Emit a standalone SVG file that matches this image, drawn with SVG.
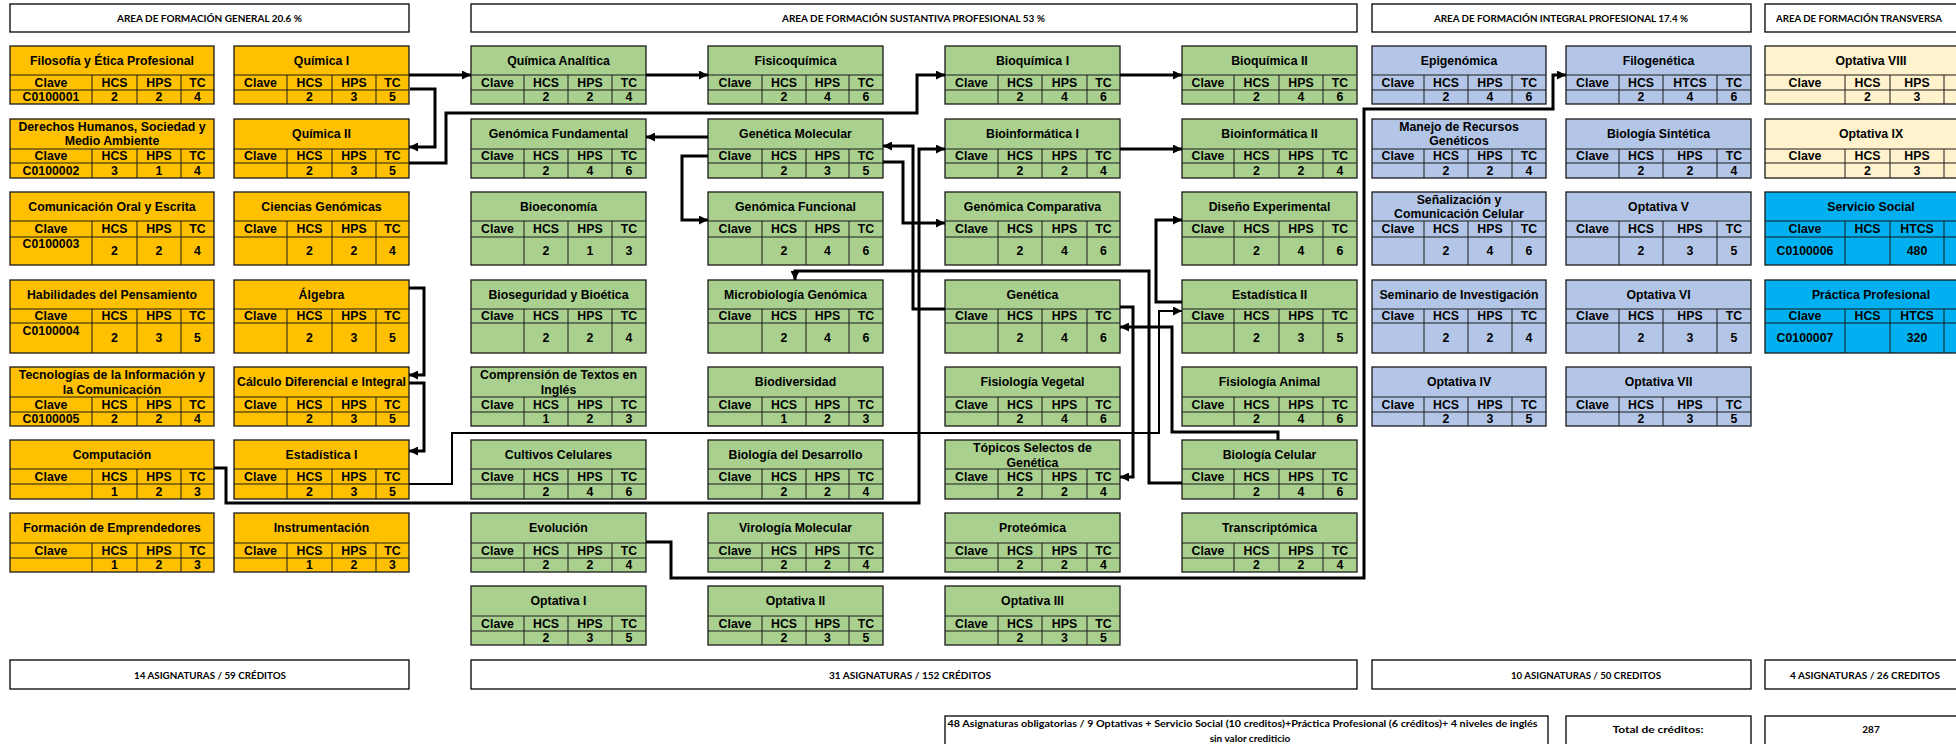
<svg xmlns="http://www.w3.org/2000/svg" width="1956" height="744" viewBox="0 0 1956 744">
<style>
.b{stroke:#1a1a1a;stroke-width:1.3}
.g{fill:none;stroke:#1a1a1a;stroke-width:1}
.or{fill:#FFC000}.gr{fill:#A9D08E}.bl{fill:#B4C6E7}.ye{fill:#FFF2CC}.cy{fill:#00B0F0}
.t{font-family:"Liberation Sans",Arial,sans-serif;font-weight:700;font-size:12.3px;text-anchor:middle;dominant-baseline:central;fill:#000}
.h{font-family:Lato,"Liberation Sans",sans-serif;font-weight:700;font-size:10px;text-anchor:middle;dominant-baseline:central;fill:#000}
.hs{text-anchor:start}
.hb{fill:#fff;stroke:#000;stroke-width:1.3}
.c{fill:none;stroke:#000;stroke-width:3;stroke-linejoin:miter}
.thin{stroke-width:2}
</style>
<defs>
<marker id="ah" viewBox="0 0 10 10" refX="10" refY="5" markerWidth="9" markerHeight="9" markerUnits="userSpaceOnUse" orient="auto"><path d="M0,0L10,5L0,10z" fill="#000"/></marker>
</defs>
<rect width="1956" height="744" fill="#fff"/>

<g id="headers">
<rect class="hb" x="10" y="4" width="399" height="28"/>
<text class="h" x="209.5" y="18" textLength="185" lengthAdjust="spacingAndGlyphs">AREA DE FORMACIÓN GENERAL  20.6 %</text>
<rect class="hb" x="471" y="4" width="886" height="28"/>
<text class="h" x="913.5" y="18" textLength="263" lengthAdjust="spacingAndGlyphs">AREA DE FORMACIÓN SUSTANTIVA PROFESIONAL  53 %</text>
<rect class="hb" x="1372" y="4" width="379" height="28"/>
<text class="h" x="1561" y="18" textLength="254" lengthAdjust="spacingAndGlyphs">AREA DE FORMACIÓN INTEGRAL PROFESIONAL 17.4 %</text>
<rect class="hb" x="1765" y="4" width="240" height="28"/>
<text class="h hs" x="1776" y="18" textLength="166" lengthAdjust="spacingAndGlyphs">AREA DE FORMACIÓN TRANSVERSA</text>
</g>

<g id="footers">
<rect class="hb" x="10" y="660" width="399" height="29"/>
<text class="h" x="210" y="674.5" textLength="152" lengthAdjust="spacingAndGlyphs">14 ASIGNATURAS / 59 CRÉDITOS</text>
<rect class="hb" x="471" y="660" width="886" height="29"/>
<text class="h" x="910" y="674.5" textLength="162" lengthAdjust="spacingAndGlyphs">31 ASIGNATURAS / 152 CRÉDITOS</text>
<rect class="hb" x="1372" y="660" width="379" height="29"/>
<text class="h" x="1586" y="674.5" textLength="150" lengthAdjust="spacingAndGlyphs">10 ASIGNATURAS / 50 CREDITOS</text>
<rect class="hb" x="1765" y="660" width="240" height="29"/>
<text class="h hs" x="1790" y="674.5" textLength="150" lengthAdjust="spacingAndGlyphs">4 ASIGNATURAS / 26 CREDITOS</text>
<rect class="hb" x="945" y="716" width="603" height="40"/>
<text class="h" x="1242.5" y="722.5" textLength="590" lengthAdjust="spacingAndGlyphs">48 Asignaturas obligatorias  / 9 Optativas + Servicio Social (10 creditos)+Práctica Profesional (6 créditos)+ 4 niveles de inglés</text>
<text class="h" x="1250" y="737.5">sin valor crediticio</text>
<rect class="hb" x="1566" y="716" width="185" height="40"/>
<text class="h" x="1658" y="728.5" textLength="91" lengthAdjust="spacingAndGlyphs">Total de créditos:</text>
<rect class="hb" x="1765" y="716" width="240" height="40"/>
<text class="h" x="1871" y="728.5">287</text>
</g>

<!-- Column A -->
<g id="filosofia"><rect class="b or" x="10" y="46" width="204" height="58"/><path class="g" d="M10,75H214M10,90H214M92,75V104M137,75V104M181,75V104"/><text class="t" x="112" y="60.5">Filosofía y Ética Profesional</text><text class="t" y="82.5"><tspan x="51">Clave</tspan><tspan x="114.5">HCS</tspan><tspan x="159">HPS</tspan><tspan x="197.5">TC</tspan></text><text class="t" y="97"><tspan x="51">C0100001</tspan><tspan x="114.5">2</tspan><tspan x="159">2</tspan><tspan x="197.5">4</tspan></text></g>
<g id="derechos"><rect class="b or" x="10" y="119" width="204" height="59"/><path class="g" d="M10,149H214M10,163H214M92,149V178M137,149V178M181,149V178"/><text class="t" x="112" y="127">Derechos Humanos, Sociedad y</text><text class="t" x="112" y="141">Medio Ambiente</text><text class="t" y="156"><tspan x="51">Clave</tspan><tspan x="114.5">HCS</tspan><tspan x="159">HPS</tspan><tspan x="197.5">TC</tspan></text><text class="t" y="170.5"><tspan x="51">C0100002</tspan><tspan x="114.5">3</tspan><tspan x="159">1</tspan><tspan x="197.5">4</tspan></text></g>
<g id="comunicacion"><rect class="b or" x="10" y="192" width="204" height="73"/><path class="g" d="M10,221H214M10,237H214M92,221V265M137,221V265M181,221V265"/><text class="t" x="112" y="206.5">Comunicación Oral y Escrita</text><text class="t" y="229"><tspan x="51">Clave</tspan><tspan x="114.5">HCS</tspan><tspan x="159">HPS</tspan><tspan x="197.5">TC</tspan></text><text class="t" x="51" y="244">C0100003</text><text class="t" y="251"><tspan x="114.5">2</tspan><tspan x="159">2</tspan><tspan x="197.5">4</tspan></text></g>
<g id="habilidades"><rect class="b or" x="10" y="280" width="204" height="73"/><path class="g" d="M10,309H214M10,323H214M92,309V353M137,309V353M181,309V353"/><text class="t" x="112" y="294.5">Habilidades del Pensamiento</text><text class="t" y="316"><tspan x="51">Clave</tspan><tspan x="114.5">HCS</tspan><tspan x="159">HPS</tspan><tspan x="197.5">TC</tspan></text><text class="t" x="51" y="331">C0100004</text><text class="t" y="338"><tspan x="114.5">2</tspan><tspan x="159">3</tspan><tspan x="197.5">5</tspan></text></g>
<g id="tecnologias"><rect class="b or" x="10" y="367" width="204" height="59"/><path class="g" d="M10,397H214M10,412H214M92,397V426M137,397V426M181,397V426"/><text class="t" x="112" y="375">Tecnologías de la Información y</text><text class="t" x="112" y="390">la Comunicación</text><text class="t" y="404.5"><tspan x="51">Clave</tspan><tspan x="114.5">HCS</tspan><tspan x="159">HPS</tspan><tspan x="197.5">TC</tspan></text><text class="t" y="419"><tspan x="51">C0100005</tspan><tspan x="114.5">2</tspan><tspan x="159">2</tspan><tspan x="197.5">4</tspan></text></g>
<g id="computacion"><rect class="b or" x="10" y="440" width="204" height="59"/><path class="g" d="M10,469H214M10,484H214M92,469V499M137,469V499M181,469V499"/><text class="t" x="112" y="454.5">Computación</text><text class="t" y="476.5"><tspan x="51">Clave</tspan><tspan x="114.5">HCS</tspan><tspan x="159">HPS</tspan><tspan x="197.5">TC</tspan></text><text class="t" y="491.5"><tspan x="114.5">1</tspan><tspan x="159">2</tspan><tspan x="197.5">3</tspan></text></g>
<g id="emprendedores"><rect class="b or" x="10" y="513" width="204" height="59"/><path class="g" d="M10,543H214M10,558H214M92,543V572M137,543V572M181,543V572"/><text class="t" x="112" y="528">Formación de Emprendedores</text><text class="t" y="550.5"><tspan x="51">Clave</tspan><tspan x="114.5">HCS</tspan><tspan x="159">HPS</tspan><tspan x="197.5">TC</tspan></text><text class="t" y="565"><tspan x="114.5">1</tspan><tspan x="159">2</tspan><tspan x="197.5">3</tspan></text></g>

<!-- Column B -->
<g id="quimica1"><rect class="b or" x="234" y="46" width="175" height="58"/><path class="g" d="M234,75H409M234,90H409M287,75V104M332,75V104M376,75V104"/><text class="t" x="321.5" y="60.5">Química I</text><text class="t" y="82.5"><tspan x="260.5">Clave</tspan><tspan x="309.5">HCS</tspan><tspan x="354">HPS</tspan><tspan x="392.5">TC</tspan></text><text class="t" y="97"><tspan x="309.5">2</tspan><tspan x="354">3</tspan><tspan x="392.5">5</tspan></text></g>
<g id="quimica2"><rect class="b or" x="234" y="119" width="175" height="59"/><path class="g" d="M234,149H409M234,163H409M287,149V178M332,149V178M376,149V178"/><text class="t" x="321.5" y="134">Química II</text><text class="t" y="156"><tspan x="260.5">Clave</tspan><tspan x="309.5">HCS</tspan><tspan x="354">HPS</tspan><tspan x="392.5">TC</tspan></text><text class="t" y="170.5"><tspan x="309.5">2</tspan><tspan x="354">3</tspan><tspan x="392.5">5</tspan></text></g>
<g id="cienciasgen"><rect class="b or" x="234" y="192" width="175" height="73"/><path class="g" d="M234,221H409M234,237H409M287,221V265M332,221V265M376,221V265"/><text class="t" x="321.5" y="206.5">Ciencias Genómicas</text><text class="t" y="229"><tspan x="260.5">Clave</tspan><tspan x="309.5">HCS</tspan><tspan x="354">HPS</tspan><tspan x="392.5">TC</tspan></text><text class="t" y="251"><tspan x="309.5">2</tspan><tspan x="354">2</tspan><tspan x="392.5">4</tspan></text></g>
<g id="algebra"><rect class="b or" x="234" y="280" width="175" height="73"/><path class="g" d="M234,309H409M234,323H409M287,309V353M332,309V353M376,309V353"/><text class="t" x="321.5" y="294.5">Álgebra</text><text class="t" y="316"><tspan x="260.5">Clave</tspan><tspan x="309.5">HCS</tspan><tspan x="354">HPS</tspan><tspan x="392.5">TC</tspan></text><text class="t" y="338"><tspan x="309.5">2</tspan><tspan x="354">3</tspan><tspan x="392.5">5</tspan></text></g>
<g id="calculo"><rect class="b or" x="234" y="367" width="175" height="59"/><path class="g" d="M234,397H409M234,412H409M287,397V426M332,397V426M376,397V426"/><text class="t" x="321.5" y="382">Cálculo Diferencial e Integral</text><text class="t" y="404.5"><tspan x="260.5">Clave</tspan><tspan x="309.5">HCS</tspan><tspan x="354">HPS</tspan><tspan x="392.5">TC</tspan></text><text class="t" y="419"><tspan x="309.5">2</tspan><tspan x="354">3</tspan><tspan x="392.5">5</tspan></text></g>
<g id="estadistica1"><rect class="b or" x="234" y="440" width="175" height="59"/><path class="g" d="M234,469H409M234,484H409M287,469V499M332,469V499M376,469V499"/><text class="t" x="321.5" y="454.5">Estadística I</text><text class="t" y="476.5"><tspan x="260.5">Clave</tspan><tspan x="309.5">HCS</tspan><tspan x="354">HPS</tspan><tspan x="392.5">TC</tspan></text><text class="t" y="491.5"><tspan x="309.5">2</tspan><tspan x="354">3</tspan><tspan x="392.5">5</tspan></text></g>
<g id="instrumentacion"><rect class="b or" x="234" y="513" width="175" height="59"/><path class="g" d="M234,543H409M234,558H409M287,543V572M332,543V572M376,543V572"/><text class="t" x="321.5" y="528">Instrumentación</text><text class="t" y="550.5"><tspan x="260.5">Clave</tspan><tspan x="309.5">HCS</tspan><tspan x="354">HPS</tspan><tspan x="392.5">TC</tspan></text><text class="t" y="565"><tspan x="309.5">1</tspan><tspan x="354">2</tspan><tspan x="392.5">3</tspan></text></g>

<!-- Column C -->
<g id="quimanalitica"><rect class="b gr" x="471" y="46" width="175" height="58"/><path class="g" d="M471,75H646M471,90H646M524,75V104M568,75V104M612,75V104"/><text class="t" x="558.5" y="60.5">Química Analítica</text><text class="t" y="82.5"><tspan x="497.5">Clave</tspan><tspan x="546">HCS</tspan><tspan x="590">HPS</tspan><tspan x="629">TC</tspan></text><text class="t" y="97"><tspan x="546">2</tspan><tspan x="590">2</tspan><tspan x="629">4</tspan></text></g>
<g id="genfundamental"><rect class="b gr" x="471" y="119" width="175" height="59"/><path class="g" d="M471,149H646M471,163H646M524,149V178M568,149V178M612,149V178"/><text class="t" x="558.5" y="134">Genómica Fundamental</text><text class="t" y="156"><tspan x="497.5">Clave</tspan><tspan x="546">HCS</tspan><tspan x="590">HPS</tspan><tspan x="629">TC</tspan></text><text class="t" y="170.5"><tspan x="546">2</tspan><tspan x="590">4</tspan><tspan x="629">6</tspan></text></g>
<g id="bioeconomia"><rect class="b gr" x="471" y="192" width="175" height="73"/><path class="g" d="M471,221H646M471,237H646M524,221V265M568,221V265M612,221V265"/><text class="t" x="558.5" y="206.5">Bioeconomía</text><text class="t" y="229"><tspan x="497.5">Clave</tspan><tspan x="546">HCS</tspan><tspan x="590">HPS</tspan><tspan x="629">TC</tspan></text><text class="t" y="251"><tspan x="546">2</tspan><tspan x="590">1</tspan><tspan x="629">3</tspan></text></g>
<g id="bioseguridad"><rect class="b gr" x="471" y="280" width="175" height="73"/><path class="g" d="M471,309H646M471,323H646M524,309V353M568,309V353M612,309V353"/><text class="t" x="558.5" y="294.5">Bioseguridad y Bioética</text><text class="t" y="316"><tspan x="497.5">Clave</tspan><tspan x="546">HCS</tspan><tspan x="590">HPS</tspan><tspan x="629">TC</tspan></text><text class="t" y="338"><tspan x="546">2</tspan><tspan x="590">2</tspan><tspan x="629">4</tspan></text></g>
<g id="comprension"><rect class="b gr" x="471" y="367" width="175" height="59"/><path class="g" d="M471,397H646M471,412H646M524,397V426M568,397V426M612,397V426"/><text class="t" x="558.5" y="375">Comprensión de Textos en</text><text class="t" x="558.5" y="390">Inglés</text><text class="t" y="404.5"><tspan x="497.5">Clave</tspan><tspan x="546">HCS</tspan><tspan x="590">HPS</tspan><tspan x="629">TC</tspan></text><text class="t" y="419"><tspan x="546">1</tspan><tspan x="590">2</tspan><tspan x="629">3</tspan></text></g>
<g id="cultivos"><rect class="b gr" x="471" y="440" width="175" height="59"/><path class="g" d="M471,469H646M471,484H646M524,469V499M568,469V499M612,469V499"/><text class="t" x="558.5" y="454.5">Cultivos Celulares</text><text class="t" y="476.5"><tspan x="497.5">Clave</tspan><tspan x="546">HCS</tspan><tspan x="590">HPS</tspan><tspan x="629">TC</tspan></text><text class="t" y="491.5"><tspan x="546">2</tspan><tspan x="590">4</tspan><tspan x="629">6</tspan></text></g>
<g id="evolucion"><rect class="b gr" x="471" y="513" width="175" height="59"/><path class="g" d="M471,543H646M471,558H646M524,543V572M568,543V572M612,543V572"/><text class="t" x="558.5" y="528">Evolución</text><text class="t" y="550.5"><tspan x="497.5">Clave</tspan><tspan x="546">HCS</tspan><tspan x="590">HPS</tspan><tspan x="629">TC</tspan></text><text class="t" y="565"><tspan x="546">2</tspan><tspan x="590">2</tspan><tspan x="629">4</tspan></text></g>
<g id="optativa1"><rect class="b gr" x="471" y="586" width="175" height="59"/><path class="g" d="M471,616H646M471,631H646M524,616V645M568,616V645M612,616V645"/><text class="t" x="558.5" y="601">Optativa I</text><text class="t" y="623.5"><tspan x="497.5">Clave</tspan><tspan x="546">HCS</tspan><tspan x="590">HPS</tspan><tspan x="629">TC</tspan></text><text class="t" y="638"><tspan x="546">2</tspan><tspan x="590">3</tspan><tspan x="629">5</tspan></text></g>

<!-- Column D -->
<g id="fisicoquimica"><rect class="b gr" x="708" y="46" width="175" height="58"/><path class="g" d="M708,75H883M708,90H883M762,75V104M806,75V104M849,75V104"/><text class="t" x="795.5" y="60.5">Fisicoquímica</text><text class="t" y="82.5"><tspan x="735">Clave</tspan><tspan x="784">HCS</tspan><tspan x="827.5">HPS</tspan><tspan x="866">TC</tspan></text><text class="t" y="97"><tspan x="784">2</tspan><tspan x="827.5">4</tspan><tspan x="866">6</tspan></text></g>
<g id="genmolecular"><rect class="b gr" x="708" y="119" width="175" height="59"/><path class="g" d="M708,149H883M708,163H883M762,149V178M806,149V178M849,149V178"/><text class="t" x="795.5" y="134">Genética Molecular</text><text class="t" y="156"><tspan x="735">Clave</tspan><tspan x="784">HCS</tspan><tspan x="827.5">HPS</tspan><tspan x="866">TC</tspan></text><text class="t" y="170.5"><tspan x="784">2</tspan><tspan x="827.5">3</tspan><tspan x="866">5</tspan></text></g>
<g id="genfuncional"><rect class="b gr" x="708" y="192" width="175" height="73"/><path class="g" d="M708,221H883M708,237H883M762,221V265M806,221V265M849,221V265"/><text class="t" x="795.5" y="206.5">Genómica Funcional</text><text class="t" y="229"><tspan x="735">Clave</tspan><tspan x="784">HCS</tspan><tspan x="827.5">HPS</tspan><tspan x="866">TC</tspan></text><text class="t" y="251"><tspan x="784">2</tspan><tspan x="827.5">4</tspan><tspan x="866">6</tspan></text></g>
<g id="microbiologia"><rect class="b gr" x="708" y="280" width="175" height="73"/><path class="g" d="M708,309H883M708,323H883M762,309V353M806,309V353M849,309V353"/><text class="t" x="795.5" y="294.5">Microbiología Genómica</text><text class="t" y="316"><tspan x="735">Clave</tspan><tspan x="784">HCS</tspan><tspan x="827.5">HPS</tspan><tspan x="866">TC</tspan></text><text class="t" y="338"><tspan x="784">2</tspan><tspan x="827.5">4</tspan><tspan x="866">6</tspan></text></g>
<g id="biodiversidad"><rect class="b gr" x="708" y="367" width="175" height="59"/><path class="g" d="M708,397H883M708,412H883M762,397V426M806,397V426M849,397V426"/><text class="t" x="795.5" y="382">Biodiversidad</text><text class="t" y="404.5"><tspan x="735">Clave</tspan><tspan x="784">HCS</tspan><tspan x="827.5">HPS</tspan><tspan x="866">TC</tspan></text><text class="t" y="419"><tspan x="784">1</tspan><tspan x="827.5">2</tspan><tspan x="866">3</tspan></text></g>
<g id="biodesarrollo"><rect class="b gr" x="708" y="440" width="175" height="59"/><path class="g" d="M708,469H883M708,484H883M762,469V499M806,469V499M849,469V499"/><text class="t" x="795.5" y="454.5">Biología del Desarrollo</text><text class="t" y="476.5"><tspan x="735">Clave</tspan><tspan x="784">HCS</tspan><tspan x="827.5">HPS</tspan><tspan x="866">TC</tspan></text><text class="t" y="491.5"><tspan x="784">2</tspan><tspan x="827.5">2</tspan><tspan x="866">4</tspan></text></g>
<g id="virologia"><rect class="b gr" x="708" y="513" width="175" height="59"/><path class="g" d="M708,543H883M708,558H883M762,543V572M806,543V572M849,543V572"/><text class="t" x="795.5" y="528">Virología Molecular</text><text class="t" y="550.5"><tspan x="735">Clave</tspan><tspan x="784">HCS</tspan><tspan x="827.5">HPS</tspan><tspan x="866">TC</tspan></text><text class="t" y="565"><tspan x="784">2</tspan><tspan x="827.5">2</tspan><tspan x="866">4</tspan></text></g>
<g id="optativa2"><rect class="b gr" x="708" y="586" width="175" height="59"/><path class="g" d="M708,616H883M708,631H883M762,616V645M806,616V645M849,616V645"/><text class="t" x="795.5" y="601">Optativa II</text><text class="t" y="623.5"><tspan x="735">Clave</tspan><tspan x="784">HCS</tspan><tspan x="827.5">HPS</tspan><tspan x="866">TC</tspan></text><text class="t" y="638"><tspan x="784">2</tspan><tspan x="827.5">3</tspan><tspan x="866">5</tspan></text></g>

<!-- Column E -->
<g id="bioquimica1"><rect class="b gr" x="945" y="46" width="175" height="58"/><path class="g" d="M945,75H1120M945,90H1120M998,75V104M1042,75V104M1087,75V104"/><text class="t" x="1032.5" y="60.5">Bioquímica I</text><text class="t" y="82.5"><tspan x="971.5">Clave</tspan><tspan x="1020">HCS</tspan><tspan x="1064.5">HPS</tspan><tspan x="1103.5">TC</tspan></text><text class="t" y="97"><tspan x="1020">2</tspan><tspan x="1064.5">4</tspan><tspan x="1103.5">6</tspan></text></g>
<g id="bioinfo1"><rect class="b gr" x="945" y="119" width="175" height="59"/><path class="g" d="M945,149H1120M945,163H1120M998,149V178M1042,149V178M1087,149V178"/><text class="t" x="1032.5" y="134">Bioinformática I</text><text class="t" y="156"><tspan x="971.5">Clave</tspan><tspan x="1020">HCS</tspan><tspan x="1064.5">HPS</tspan><tspan x="1103.5">TC</tspan></text><text class="t" y="170.5"><tspan x="1020">2</tspan><tspan x="1064.5">2</tspan><tspan x="1103.5">4</tspan></text></g>
<g id="gencomparativa"><rect class="b gr" x="945" y="192" width="175" height="73"/><path class="g" d="M945,221H1120M945,237H1120M998,221V265M1042,221V265M1087,221V265"/><text class="t" x="1032.5" y="206.5">Genómica Comparativa</text><text class="t" y="229"><tspan x="971.5">Clave</tspan><tspan x="1020">HCS</tspan><tspan x="1064.5">HPS</tspan><tspan x="1103.5">TC</tspan></text><text class="t" y="251"><tspan x="1020">2</tspan><tspan x="1064.5">4</tspan><tspan x="1103.5">6</tspan></text></g>
<g id="genetica"><rect class="b gr" x="945" y="280" width="175" height="73"/><path class="g" d="M945,309H1120M945,323H1120M998,309V353M1042,309V353M1087,309V353"/><text class="t" x="1032.5" y="294.5">Genética</text><text class="t" y="316"><tspan x="971.5">Clave</tspan><tspan x="1020">HCS</tspan><tspan x="1064.5">HPS</tspan><tspan x="1103.5">TC</tspan></text><text class="t" y="338"><tspan x="1020">2</tspan><tspan x="1064.5">4</tspan><tspan x="1103.5">6</tspan></text></g>
<g id="fisvegetal"><rect class="b gr" x="945" y="367" width="175" height="59"/><path class="g" d="M945,397H1120M945,412H1120M998,397V426M1042,397V426M1087,397V426"/><text class="t" x="1032.5" y="382">Fisiología Vegetal</text><text class="t" y="404.5"><tspan x="971.5">Clave</tspan><tspan x="1020">HCS</tspan><tspan x="1064.5">HPS</tspan><tspan x="1103.5">TC</tspan></text><text class="t" y="419"><tspan x="1020">2</tspan><tspan x="1064.5">4</tspan><tspan x="1103.5">6</tspan></text></g>
<g id="topicos"><rect class="b gr" x="945" y="440" width="175" height="59"/><path class="g" d="M945,469H1120M945,484H1120M998,469V499M1042,469V499M1087,469V499"/><text class="t" x="1032.5" y="448">Tópicos Selectos de</text><text class="t" x="1032.5" y="463">Genética</text><text class="t" y="476.5"><tspan x="971.5">Clave</tspan><tspan x="1020">HCS</tspan><tspan x="1064.5">HPS</tspan><tspan x="1103.5">TC</tspan></text><text class="t" y="491.5"><tspan x="1020">2</tspan><tspan x="1064.5">2</tspan><tspan x="1103.5">4</tspan></text></g>
<g id="proteomica"><rect class="b gr" x="945" y="513" width="175" height="59"/><path class="g" d="M945,543H1120M945,558H1120M998,543V572M1042,543V572M1087,543V572"/><text class="t" x="1032.5" y="528">Proteómica</text><text class="t" y="550.5"><tspan x="971.5">Clave</tspan><tspan x="1020">HCS</tspan><tspan x="1064.5">HPS</tspan><tspan x="1103.5">TC</tspan></text><text class="t" y="565"><tspan x="1020">2</tspan><tspan x="1064.5">2</tspan><tspan x="1103.5">4</tspan></text></g>
<g id="optativa3"><rect class="b gr" x="945" y="586" width="175" height="59"/><path class="g" d="M945,616H1120M945,631H1120M998,616V645M1042,616V645M1087,616V645"/><text class="t" x="1032.5" y="601">Optativa III</text><text class="t" y="623.5"><tspan x="971.5">Clave</tspan><tspan x="1020">HCS</tspan><tspan x="1064.5">HPS</tspan><tspan x="1103.5">TC</tspan></text><text class="t" y="638"><tspan x="1020">2</tspan><tspan x="1064.5">3</tspan><tspan x="1103.5">5</tspan></text></g>

<!-- Column F -->
<g id="bioquimica2"><rect class="b gr" x="1182" y="46" width="175" height="58"/><path class="g" d="M1182,75H1357M1182,90H1357M1234,75V104M1279,75V104M1323,75V104"/><text class="t" x="1269.5" y="60.5">Bioquímica II</text><text class="t" y="82.5"><tspan x="1208">Clave</tspan><tspan x="1256.5">HCS</tspan><tspan x="1301">HPS</tspan><tspan x="1340">TC</tspan></text><text class="t" y="97"><tspan x="1256.5">2</tspan><tspan x="1301">4</tspan><tspan x="1340">6</tspan></text></g>
<g id="bioinfo2"><rect class="b gr" x="1182" y="119" width="175" height="59"/><path class="g" d="M1182,149H1357M1182,163H1357M1234,149V178M1279,149V178M1323,149V178"/><text class="t" x="1269.5" y="134">Bioinformática II</text><text class="t" y="156"><tspan x="1208">Clave</tspan><tspan x="1256.5">HCS</tspan><tspan x="1301">HPS</tspan><tspan x="1340">TC</tspan></text><text class="t" y="170.5"><tspan x="1256.5">2</tspan><tspan x="1301">2</tspan><tspan x="1340">4</tspan></text></g>
<g id="disenoexp"><rect class="b gr" x="1182" y="192" width="175" height="73"/><path class="g" d="M1182,221H1357M1182,237H1357M1234,221V265M1279,221V265M1323,221V265"/><text class="t" x="1269.5" y="206.5">Diseño Experimental</text><text class="t" y="229"><tspan x="1208">Clave</tspan><tspan x="1256.5">HCS</tspan><tspan x="1301">HPS</tspan><tspan x="1340">TC</tspan></text><text class="t" y="251"><tspan x="1256.5">2</tspan><tspan x="1301">4</tspan><tspan x="1340">6</tspan></text></g>
<g id="estadistica2"><rect class="b gr" x="1182" y="280" width="175" height="73"/><path class="g" d="M1182,309H1357M1182,323H1357M1234,309V353M1279,309V353M1323,309V353"/><text class="t" x="1269.5" y="294.5">Estadística II</text><text class="t" y="316"><tspan x="1208">Clave</tspan><tspan x="1256.5">HCS</tspan><tspan x="1301">HPS</tspan><tspan x="1340">TC</tspan></text><text class="t" y="338"><tspan x="1256.5">2</tspan><tspan x="1301">3</tspan><tspan x="1340">5</tspan></text></g>
<g id="fisanimal"><rect class="b gr" x="1182" y="367" width="175" height="59"/><path class="g" d="M1182,397H1357M1182,412H1357M1234,397V426M1279,397V426M1323,397V426"/><text class="t" x="1269.5" y="382">Fisiología Animal</text><text class="t" y="404.5"><tspan x="1208">Clave</tspan><tspan x="1256.5">HCS</tspan><tspan x="1301">HPS</tspan><tspan x="1340">TC</tspan></text><text class="t" y="419"><tspan x="1256.5">2</tspan><tspan x="1301">4</tspan><tspan x="1340">6</tspan></text></g>
<g id="biocelular"><rect class="b gr" x="1182" y="440" width="175" height="59"/><path class="g" d="M1182,469H1357M1182,484H1357M1234,469V499M1279,469V499M1323,469V499"/><text class="t" x="1269.5" y="454.5">Biología Celular</text><text class="t" y="476.5"><tspan x="1208">Clave</tspan><tspan x="1256.5">HCS</tspan><tspan x="1301">HPS</tspan><tspan x="1340">TC</tspan></text><text class="t" y="491.5"><tspan x="1256.5">2</tspan><tspan x="1301">4</tspan><tspan x="1340">6</tspan></text></g>
<g id="transcriptomica"><rect class="b gr" x="1182" y="513" width="175" height="59"/><path class="g" d="M1182,543H1357M1182,558H1357M1234,543V572M1279,543V572M1323,543V572"/><text class="t" x="1269.5" y="528">Transcriptómica</text><text class="t" y="550.5"><tspan x="1208">Clave</tspan><tspan x="1256.5">HCS</tspan><tspan x="1301">HPS</tspan><tspan x="1340">TC</tspan></text><text class="t" y="565"><tspan x="1256.5">2</tspan><tspan x="1301">2</tspan><tspan x="1340">4</tspan></text></g>

<!-- Column G -->
<g id="epigenomica"><rect class="b bl" x="1372" y="46" width="174" height="58"/><path class="g" d="M1372,75H1546M1372,90H1546M1424,75V104M1468,75V104M1512,75V104"/><text class="t" x="1459" y="60.5">Epigenómica</text><text class="t" y="82.5"><tspan x="1398">Clave</tspan><tspan x="1446">HCS</tspan><tspan x="1490">HPS</tspan><tspan x="1529">TC</tspan></text><text class="t" y="97"><tspan x="1446">2</tspan><tspan x="1490">4</tspan><tspan x="1529">6</tspan></text></g>
<g id="manejo"><rect class="b bl" x="1372" y="119" width="174" height="59"/><path class="g" d="M1372,149H1546M1372,163H1546M1424,149V178M1468,149V178M1512,149V178"/><text class="t" x="1459" y="127">Manejo de Recursos</text><text class="t" x="1459" y="141">Genéticos</text><text class="t" y="156"><tspan x="1398">Clave</tspan><tspan x="1446">HCS</tspan><tspan x="1490">HPS</tspan><tspan x="1529">TC</tspan></text><text class="t" y="170.5"><tspan x="1446">2</tspan><tspan x="1490">2</tspan><tspan x="1529">4</tspan></text></g>
<g id="senalizacion"><rect class="b bl" x="1372" y="192" width="174" height="73"/><path class="g" d="M1372,221H1546M1372,237H1546M1424,221V265M1468,221V265M1512,221V265"/><text class="t" x="1459" y="200">Señalización y</text><text class="t" x="1459" y="214">Comunicación Celular</text><text class="t" y="229"><tspan x="1398">Clave</tspan><tspan x="1446">HCS</tspan><tspan x="1490">HPS</tspan><tspan x="1529">TC</tspan></text><text class="t" y="251"><tspan x="1446">2</tspan><tspan x="1490">4</tspan><tspan x="1529">6</tspan></text></g>
<g id="seminario"><rect class="b bl" x="1372" y="280" width="174" height="73"/><path class="g" d="M1372,309H1546M1372,323H1546M1424,309V353M1468,309V353M1512,309V353"/><text class="t" x="1459" y="294.5">Seminario de Investigación</text><text class="t" y="316"><tspan x="1398">Clave</tspan><tspan x="1446">HCS</tspan><tspan x="1490">HPS</tspan><tspan x="1529">TC</tspan></text><text class="t" y="338"><tspan x="1446">2</tspan><tspan x="1490">2</tspan><tspan x="1529">4</tspan></text></g>
<g id="optativa4"><rect class="b bl" x="1372" y="367" width="174" height="59"/><path class="g" d="M1372,397H1546M1372,412H1546M1424,397V426M1468,397V426M1512,397V426"/><text class="t" x="1459" y="382">Optativa IV</text><text class="t" y="404.5"><tspan x="1398">Clave</tspan><tspan x="1446">HCS</tspan><tspan x="1490">HPS</tspan><tspan x="1529">TC</tspan></text><text class="t" y="419"><tspan x="1446">2</tspan><tspan x="1490">3</tspan><tspan x="1529">5</tspan></text></g>

<!-- Column H -->
<g id="filogenetica"><rect class="b bl" x="1566" y="46" width="185" height="58"/><path class="g" d="M1566,75H1751M1566,90H1751M1619,75V104M1663,75V104M1717,75V104"/><text class="t" x="1658.5" y="60.5">Filogenética</text><text class="t" y="82.5"><tspan x="1592.5">Clave</tspan><tspan x="1641">HCS</tspan><tspan x="1690">HTCS</tspan><tspan x="1734">TC</tspan></text><text class="t" y="97"><tspan x="1641">2</tspan><tspan x="1690">4</tspan><tspan x="1734">6</tspan></text></g>
<g id="biosintetica"><rect class="b bl" x="1566" y="119" width="185" height="59"/><path class="g" d="M1566,149H1751M1566,163H1751M1619,149V178M1663,149V178M1717,149V178"/><text class="t" x="1658.5" y="134">Biología Sintética</text><text class="t" y="156"><tspan x="1592.5">Clave</tspan><tspan x="1641">HCS</tspan><tspan x="1690">HPS</tspan><tspan x="1734">TC</tspan></text><text class="t" y="170.5"><tspan x="1641">2</tspan><tspan x="1690">2</tspan><tspan x="1734">4</tspan></text></g>
<g id="optativa5"><rect class="b bl" x="1566" y="192" width="185" height="73"/><path class="g" d="M1566,221H1751M1566,237H1751M1619,221V265M1663,221V265M1717,221V265"/><text class="t" x="1658.5" y="206.5">Optativa V</text><text class="t" y="229"><tspan x="1592.5">Clave</tspan><tspan x="1641">HCS</tspan><tspan x="1690">HPS</tspan><tspan x="1734">TC</tspan></text><text class="t" y="251"><tspan x="1641">2</tspan><tspan x="1690">3</tspan><tspan x="1734">5</tspan></text></g>
<g id="optativa6"><rect class="b bl" x="1566" y="280" width="185" height="73"/><path class="g" d="M1566,309H1751M1566,323H1751M1619,309V353M1663,309V353M1717,309V353"/><text class="t" x="1658.5" y="294.5">Optativa VI</text><text class="t" y="316"><tspan x="1592.5">Clave</tspan><tspan x="1641">HCS</tspan><tspan x="1690">HPS</tspan><tspan x="1734">TC</tspan></text><text class="t" y="338"><tspan x="1641">2</tspan><tspan x="1690">3</tspan><tspan x="1734">5</tspan></text></g>
<g id="optativa7"><rect class="b bl" x="1566" y="367" width="185" height="59"/><path class="g" d="M1566,397H1751M1566,412H1751M1619,397V426M1663,397V426M1717,397V426"/><text class="t" x="1658.5" y="382">Optativa VII</text><text class="t" y="404.5"><tspan x="1592.5">Clave</tspan><tspan x="1641">HCS</tspan><tspan x="1690">HPS</tspan><tspan x="1734">TC</tspan></text><text class="t" y="419"><tspan x="1641">2</tspan><tspan x="1690">3</tspan><tspan x="1734">5</tspan></text></g>

<!-- Column I -->
<g id="optativa8"><rect class="b ye" x="1765" y="46" width="225" height="58"/><path class="g" d="M1765,75H1990M1765,90H1990M1845,75V104M1890,75V104M1944,75V104"/><text class="t" x="1871" y="60.5">Optativa VIII</text><text class="t" y="82.5"><tspan x="1805">Clave</tspan><tspan x="1867.5">HCS</tspan><tspan x="1917">HPS</tspan></text><text class="t" y="97"><tspan x="1867.5">2</tspan><tspan x="1917">3</tspan></text></g>
<g id="optativa9"><rect class="b ye" x="1765" y="119" width="225" height="59"/><path class="g" d="M1765,149H1990M1765,163H1990M1845,149V178M1890,149V178M1944,149V178"/><text class="t" x="1871" y="134">Optativa IX</text><text class="t" y="156"><tspan x="1805">Clave</tspan><tspan x="1867.5">HCS</tspan><tspan x="1917">HPS</tspan></text><text class="t" y="170.5"><tspan x="1867.5">2</tspan><tspan x="1917">3</tspan></text></g>
<g id="serviciosocial"><rect class="b cy" x="1765" y="192" width="225" height="73"/><path class="g" d="M1765,221H1990M1765,237H1990M1845,221V265M1890,221V265M1944,221V265"/><text class="t" x="1871" y="206.5">Servicio Social</text><text class="t" y="229"><tspan x="1805">Clave</tspan><tspan x="1867.5">HCS</tspan><tspan x="1917">HTCS</tspan></text><text class="t" y="251"><tspan x="1805">C0100006</tspan><tspan x="1917">480</tspan></text></g>
<g id="practica"><rect class="b cy" x="1765" y="280" width="225" height="73"/><path class="g" d="M1765,309H1990M1765,323H1990M1845,309V353M1890,309V353M1944,309V353"/><text class="t" x="1871" y="294.5">Práctica Profesional</text><text class="t" y="316"><tspan x="1805">Clave</tspan><tspan x="1867.5">HCS</tspan><tspan x="1917">HTCS</tspan></text><text class="t" y="338"><tspan x="1805">C0100007</tspan><tspan x="1917">320</tspan></text></g>

<g id="connectors" class="c" marker-end="url(#ah)">
<path class="c" d="M409,75H471"/>
<path class="c" d="M410,89H435V147H409"/>
<path class="c" d="M409,163H446V113H917V75H945"/>
<path class="c" d="M646,75H708"/>
<path class="c" d="M1120,75H1182"/>
<path class="c" d="M1120,149H1182"/>
<path class="c" d="M708,137H646"/>
<path class="c" d="M708,156H682V220H708"/>
<path class="c" d="M883,162H903V223H945"/>
<path class="c" d="M945,309H913V146H883"/>
<path class="c" d="M214,468H226V503H919V149H945"/>
<path class="c thin" d="M409,484H452V433H1159V311H1182"/>
<path class="c" d="M1182,302H1156V220H1182"/>
<path class="c" d="M1120,307H1133V477H1120"/>
<path class="c" d="M1278,440V432H1172V327H1120"/>
<path class="c" d="M1182,483H1149V271H795V280"/>
<path class="c" d="M409,288H424V375H409"/>
<path class="c" d="M409,383H424V451H409"/>
<path class="c" d="M646,542H671V578H1364V109H1553V75H1566"/>
</g>
</svg>
